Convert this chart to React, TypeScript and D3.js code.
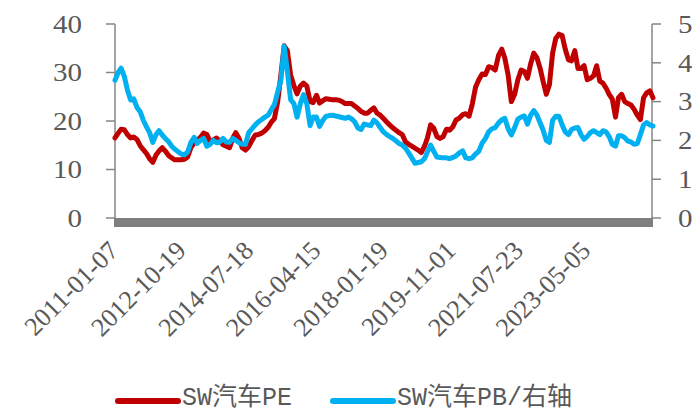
import React from "react";
import * as d3 from "d3";

// Category tick labels (every 93rd weekly category)
const tickLabels = ["2011-01-07", "2012-10-19", "2014-07-18", "2016-04-15", "2018-01-19", "2019-11-01", "2021-07-23", "2023-05-05"];
const lastDate = "2025-02-07";
const firstMonth = "2011-01-07";

// Monthly readings, Jan 2011 – Feb 2025
const peValues = [
  16.5, 17.5, 18.3, 18.2, 17.2, 16.5, 16.7, 16.2, 14.9, 14.1,
  13.3, 12.2, 11.5, 13.0, 13.8, 14.5, 13.8, 12.9, 12.4, 12.0,
  12.0, 12.0, 12.1, 12.6, 14.5, 15.5, 16.0, 16.6, 17.5, 17.2,
  15.8, 16.1, 16.5, 15.9, 15.1, 14.8, 14.5, 16.5, 17.6, 16.4,
  14.5, 14.0, 14.7, 16.0, 17.1, 17.2, 17.5, 18.0, 18.7, 19.8,
  20.5, 24.0, 29.5, 35.5, 34.5, 29.5, 27.3, 25.6, 27.2, 27.8,
  27.2, 24.0, 23.8, 25.3, 23.7, 24.2, 24.6, 24.5, 24.4, 24.4,
  24.3, 24.0, 23.6, 23.6, 23.6, 23.1, 22.6, 22.0, 21.6, 21.6,
  22.2, 22.7, 21.6, 21.2, 20.5, 19.8, 19.2, 18.6, 18.1, 17.6,
  17.2, 15.7, 15.2, 14.8, 14.4, 14.0, 13.5, 14.8, 16.5, 19.2,
  18.5, 16.8, 16.4, 16.8, 18.3, 18.1, 18.8, 20.2, 20.6, 21.3,
  21.5, 21.0, 23.5, 27.0, 28.5, 29.7, 29.6, 31.2, 31.0, 30.5,
  33.5, 34.8, 33.0, 29.5, 24.0, 25.5, 28.5, 30.5, 30.2, 28.8,
  31.8, 34.0, 33.0, 30.8, 28.2, 25.5, 27.5, 34.0, 37.0, 37.9,
  37.6, 34.8, 32.6, 32.4, 34.5, 30.8, 30.8, 31.4, 28.5, 28.8,
  29.3, 31.4, 28.2, 27.8, 26.8, 25.5, 24.5, 20.8, 24.8, 25.5,
  24.0, 23.6, 23.3, 22.4, 21.2, 20.3, 24.8, 25.8, 26.2, 24.8,
];
const pbValues = [
  3.55, 3.75, 3.86, 3.65, 3.30, 3.04, 3.07, 2.85, 2.74, 2.52,
  2.35, 2.20, 1.95, 2.15, 2.25, 2.14, 2.05, 1.97, 1.85, 1.77,
  1.71, 1.65, 1.63, 1.70, 1.95, 2.08, 1.92, 2.00, 2.05, 1.85,
  1.90, 2.00, 1.94, 1.96, 2.05, 1.96, 1.95, 2.05, 2.00, 1.94,
  1.90, 1.90, 2.20, 2.30, 2.40, 2.48, 2.54, 2.60, 2.65, 2.80,
  2.92, 3.25, 3.55, 4.43, 3.80, 3.05, 2.95, 2.60, 2.95, 3.18,
  2.95, 2.38, 2.60, 2.60, 2.36, 2.52, 2.62, 2.64, 2.65, 2.63,
  2.61, 2.59, 2.57, 2.60, 2.56, 2.48, 2.32, 2.28, 2.42, 2.40,
  2.38, 2.52, 2.45, 2.33, 2.22, 2.15, 2.10, 2.05, 1.99, 1.92,
  1.88, 1.80, 1.68, 1.55, 1.41, 1.43, 1.45, 1.53, 1.70, 1.88,
  1.72, 1.57, 1.56, 1.55, 1.55, 1.53, 1.56, 1.60, 1.68, 1.73,
  1.55, 1.53, 1.55, 1.65, 1.72, 1.93, 2.05, 2.22, 2.30, 2.33,
  2.45, 2.53, 2.57, 2.30, 2.14, 2.33, 2.55, 2.60, 2.63, 2.42,
  2.65, 2.77, 2.65, 2.45, 2.27, 2.00, 1.95, 2.52, 2.62, 2.62,
  2.40, 2.22, 2.15, 2.28, 2.32, 2.33, 2.15, 2.03, 2.10, 2.20,
  2.25, 2.20, 2.15, 2.25, 2.22, 2.10, 1.90, 1.85, 2.12, 2.12,
  2.07, 1.98, 1.96, 1.90, 1.92, 2.15, 2.40, 2.46, 2.40, 2.37,
];

const leftTicks = [0, 10, 20, 30, 40];
const rightTicks = [0, 1, 2, 3, 4, 5];
const seriesNames = ["SW汽车PE", "SW汽车PB/右轴"];
const seriesColors = ["#C00000", "#00B0F0"];

const W = 692, H = 412;
const plotL = 115, plotR = 653, plotT = 24, plotB = 218;
const categoryCount = 742, labelEvery = 93;
const textColor = "#595959";
const axisColor = "#868686";
const sx = 1.16;

export default function App() {
  const parse = d3.timeParse("%Y-%m-%d");
  const step = ((plotR - plotL) * labelEvery) / categoryCount;
  const x = d3
    .scaleTime()
    .domain([...tickLabels, lastDate].map((s) => parse(s) as Date))
    .range([...tickLabels.map((_, i) => plotL + i * step), plotR]);
  const yL = d3.scaleLinear().domain([0, 40]).range([plotB, plotT]);
  const yR = d3.scaleLinear().domain([0, 5]).range([plotB, plotT]);
  const start = parse(firstMonth) as Date;
  const dates = peValues.map((_, i) => d3.timeMonth.offset(start, i));

  const pePath = d3
    .line<number>()
    .x((_, i) => x(dates[i]))
    .y((v) => yL(v))(peValues) as string;
  const pbPath = d3
    .line<number>()
    .x((_, i) => x(dates[i]))
    .y((v) => yR(v))(pbValues) as string;

  const font = "'Liberation Serif', 'Times New Roman', serif";
  const legFont = "'Liberation Mono', 'Noto Sans CJK SC', monospace";

  return (
    <svg width={W} height={H} style={{ position: "absolute", left: 0, top: 0, background: "#fff" }}>
      <rect x={0} y={0} width={W} height={H} fill="#fff" />
      {/* left axis */}
      <line x1={plotL} x2={plotL} y1={plotT} y2={plotB} stroke={axisColor} strokeWidth={1.5} />
      {leftTicks.map((t) => (
        <g key={"l" + t}>
          <line x1={plotL - 9} x2={plotL} y1={yL(t)} y2={yL(t)} stroke={axisColor} strokeWidth={1.5} />
          <text
            transform={`translate(82,${yL(t)}) scale(${sx},1)`}
            textAnchor="end"
            dy="0.35em"
            fontFamily={font}
            fontSize={25}
            fill={textColor}
          >
            {t}
          </text>
        </g>
      ))}
      {/* right axis */}
      <line x1={plotR - 1} x2={plotR - 1} y1={plotT} y2={plotB} stroke={axisColor} strokeWidth={1.5} />
      {rightTicks.map((t) => (
        <g key={"r" + t}>
          <line x1={plotR - 1} x2={plotR + 8} y1={yR(t)} y2={yR(t)} stroke={axisColor} strokeWidth={1.5} />
          <text
            transform={`translate(678,${yR(t)}) scale(${sx},1)`}
            textAnchor="start"
            dy="0.35em"
            fontFamily={font}
            fontSize={25}
            fill={textColor}
          >
            {t}
          </text>
        </g>
      ))}
      {/* series */}
      <path d={pePath} fill="none" stroke={seriesColors[0]} strokeWidth={5} strokeLinejoin="round" strokeLinecap="round" />
      <path d={pbPath} fill="none" stroke={seriesColors[1]} strokeWidth={5} strokeLinejoin="round" strokeLinecap="round" />
      {/* bottom axis band */}
      <rect x={plotL - 1} y={plotB} width={plotR - plotL + 1} height={9} fill="#7f7f7f" />
      {/* x labels */}
      {tickLabels.map((s) => {
        const px = x(parse(s) as Date);
        return (
          <text
            key={s}
            transform={`translate(${px + 5},${252}) rotate(-45)`}
            textAnchor="end"
            fontFamily={font}
            fontSize={26}
            fill={textColor}
          >
            {s}
          </text>
        );
      })}
      {/* legend */}
      <line x1={118} x2={178} y1={401} y2={401} stroke={seriesColors[0]} strokeWidth={6} strokeLinecap="round" />
      <text x={182} y={405} fontFamily={legFont} fontSize={25} fill={textColor}>
        {seriesNames[0]}
      </text>
      <line x1={333} x2={393} y1={401} y2={401} stroke={seriesColors[1]} strokeWidth={6} strokeLinecap="round" />
      <text x={397} y={405} fontFamily={legFont} fontSize={25} fill={textColor}>
        {seriesNames[1]}
      </text>
    </svg>
  );
}
